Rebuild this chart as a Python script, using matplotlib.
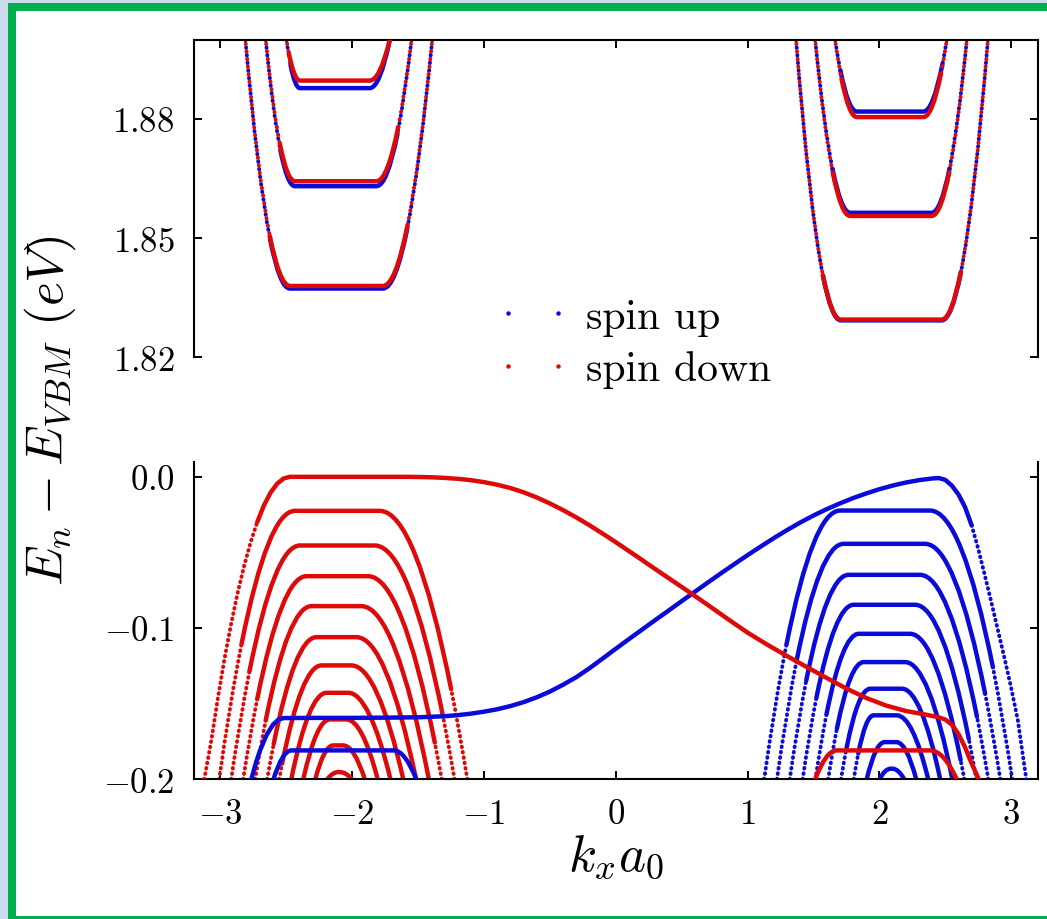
import matplotlib
matplotlib.use('Agg')
import matplotlib.pyplot as plt
from matplotlib.path import Path
from matplotlib.patches import PathPatch, Rectangle
from matplotlib.lines import Line2D

plt.rcParams['mathtext.fontset'] = 'cm'
plt.rcParams['font.family'] = 'serif'
plt.rcParams['font.serif'] = ['cmr10']
plt.rcParams['axes.unicode_minus'] = False
plt.rcParams['lines.scale_dashes'] = False

# ---------------- data (k_x a_0, energy in eV) ----------------
# lower panel: spin-down (red) bulk bands in the left valley
dn_left_E       = [-0.0225, -0.0454, -0.0657, -0.0855, -0.1060, -0.1247, -0.1428, -0.1604, -0.1776, -0.1952]
dn_left_kout_L  = [-3.009, -2.918, -2.827, -2.736, -2.645, -2.554, -2.462, -2.371, -2.280, -2.189]
dn_left_kflat_L = [-2.435, -2.397, -2.347, -2.309, -2.271, -2.233, -2.195, -2.170, -2.144, -2.105]
dn_left_kflat_R = [-1.790, -1.828, -1.878, -1.929, -1.967, -2.005, -2.030, -2.043, -2.068, -2.095]
dn_left_kout_R  = [-1.126, -1.223, -1.320, -1.418, -1.515, -1.612, -1.709, -1.806, -1.904, -2.001]

# lower panel: spin-up (blue) bulk bands in the right valley
up_right_E       = [-0.0223, -0.0443, -0.0648, -0.0846, -0.1038, -0.1225, -0.1401, -0.1577, -0.1754, -0.1930]
up_right_kout_L  = [1.126, 1.223, 1.320, 1.418, 1.515, 1.612, 1.709, 1.806, 1.904, 2.001]
up_right_kflat_L = [1.702, 1.728, 1.766, 1.805, 1.843, 1.880, 1.930, 1.956, 2.040, 2.085]
up_right_kflat_R = [2.386, 2.348, 2.310, 2.272, 2.234, 2.196, 2.171, 2.133, 2.130, 2.100]
up_right_kout_R  = [3.009, 2.918, 2.827, 2.736, 2.645, 2.554, 2.462, 2.371, 2.280, 2.189]

# lower panel: the extra bands near -0.18 eV  (E, kout_L, kflat_L, kflat_R, kout_R)
up_extra = [-0.1809, -2.597, -2.460, -1.685, -1.513]
dn_extra = [-0.1809, 1.513, 1.677, 2.386, 2.588]

# lower panel: edge states
up_edge_k = [-2.765, -2.73, -2.70, -2.65, -2.60, -2.56, -2.52, -2.30, -2.00, -1.70, -1.50,
             -1.30, -1.20, -1.10, -1.0, -0.9, -0.8, -0.7, -0.6, -0.5, -0.4, -0.3, -0.2, -0.1,
             0.0, 0.1, 0.2, 0.3, 0.4, 0.5, 0.576, 0.7, 0.8, 0.9, 1.0, 1.1, 1.2, 1.3, 1.4, 1.5,
             1.6, 1.7, 1.8, 1.9, 2.0, 2.1, 2.2, 2.3, 2.4, 2.45, 2.5, 2.55, 2.6, 2.65, 2.7,
             2.75, 2.8, 2.85, 2.9, 2.95, 3.0, 3.05, 3.115]
up_edge_E = [-0.2000, -0.1890, -0.1812, -0.1708, -0.1638, -0.1606, -0.1595, -0.1594, -0.1594,
             -0.1592, -0.1590, -0.1583, -0.1576, -0.1566, -0.1553, -0.1537, -0.1516, -0.1490,
             -0.1458, -0.1420, -0.1375, -0.1325, -0.1266, -0.1202, -0.1137, -0.1073, -0.1010,
             -0.0947, -0.0885, -0.0822, -0.0775, -0.0698, -0.0637, -0.0577, -0.0518, -0.0461,
             -0.0405, -0.0352, -0.0302, -0.0256, -0.0214, -0.0176, -0.0141, -0.0110, -0.0082,
             -0.0058, -0.0038, -0.0022, -0.0011, -0.0008, -0.0020, -0.0058, -0.0116, -0.0200,
             -0.0320, -0.0475, -0.0650, -0.0830, -0.1015, -0.1200, -0.1395, -0.1605, -0.2000]
dn_edge_k = [-3.122, -3.07, -3.02, -2.97, -2.92, -2.87, -2.82, -2.77, -2.72, -2.67, -2.62,
             -2.57, -2.52, -2.473, -2.2, -1.9, -1.6, -1.5, -1.4, -1.3, -1.2, -1.1, -1.0, -0.9,
             -0.8, -0.7, -0.6, -0.5, -0.4, -0.3, -0.2, -0.1, 0.0, 0.1, 0.2, 0.3, 0.4, 0.5,
             0.576, 0.7, 0.85, 1.0, 1.15, 1.3, 1.45, 1.6, 1.75, 1.9, 2.05, 2.2, 2.35, 2.45,
             2.5, 2.55, 2.6, 2.65, 2.7, 2.755]
dn_edge_E = [-0.2000, -0.1750, -0.1470, -0.1210, -0.0980, -0.0772, -0.0590, -0.0432, -0.0299,
             -0.0190, -0.0106, -0.0046, -0.0011, 0.0000, 0.0000, 0.0000, 0.0000, -0.0001,
             -0.0003, -0.0007, -0.0013, -0.0022, -0.0035, -0.0052, -0.0074, -0.0102, -0.0136,
             -0.0176, -0.0220, -0.0268, -0.0320, -0.0375, -0.0432, -0.0491, -0.0550, -0.0610,
             -0.0669, -0.0728, -0.0773, -0.0848, -0.0940, -0.1030, -0.1110, -0.1185, -0.1258,
             -0.1330, -0.1400, -0.1462, -0.1512, -0.1548, -0.1572, -0.1590, -0.1605, -0.1638,
             -0.1700, -0.1788, -0.1895, -0.2000]

# upper panel: conduction bands, left valley
up_tl_E = [1.83732, 1.8631, 1.8878]
dn_tl_E = [1.83797, 1.86435, 1.8897]
tl_kout_L  = [-2.810, -2.656, -2.499]
tl_kflat_L = [-2.473, -2.435, -2.397]
tl_kflat_R = [-1.765, -1.815, -1.866]
tl_kout_R  = [-1.392, -1.549, -1.714]

# upper panel: conduction bands, right valley
up_tr_E = [1.8293, 1.8564, 1.8819]
dn_tr_E = [1.8295, 1.8556, 1.8805]
tr_kout_L  = [1.368, 1.513, 1.664]
tr_kflat_L = [1.707, 1.778, 1.829]
tr_kflat_R = [2.474, 2.398, 2.335]
tr_kout_R  = [2.824, 2.664, 2.512]

x_ticks = [-3, -2, -1, 0, 1, 2, 3]
x_ticklabels = [r'$-3$', r'$-2$', r'$-1$', r'$0$', r'$1$', r'$2$', r'$3$']
top_yticks = [1.82, 1.85, 1.88]
top_yticklabels = [r'$1.82$', r'$1.85$', r'$1.88$']
bot_yticks = [-0.2, -0.1, 0.0]
bot_yticklabels = [r'$-0.2$', r'$-0.1$', r'$0.0$']

# ---------------- style ----------------
BLUE = '#0b0bd9'
RED = '#de0a0a'
LW = 3.2          # solid (dense) parts
DOT_LW = 2.8      # dot diameter on steep walls
SLOPE_THR = 5.0   # on-screen slope above which the k-sampled dots separate

W, H = 1047, 920
fig = plt.figure(figsize=(W / 100, H / 100), dpi=100)
fig.add_artist(Rectangle((0, 0), 1, 1, transform=fig.transFigure,
                         facecolor='#cddcec', edgecolor='none', zorder=-10))
fig.add_artist(Rectangle((8 / W, 0), 1, (H - 4) / H, transform=fig.transFigure,
                         facecolor='#00b050', edgecolor='none', zorder=-9))
fig.add_artist(Rectangle((16 / W, 3 / H), 1, (H - 12 - 3) / H, transform=fig.transFigure,
                         facecolor='white', edgecolor='none', zorder=-8))

left, width = 194 / W, (1037.5 - 194) / W
ax_top = fig.add_axes([left, 1 - 358.3 / H, width, (358.3 - 40.7) / H])
ax_bot = fig.add_axes([left, 1 - 780.3 / H, width, (780.3 - 462.7) / H])

YT0, YT1 = 1.82, 1.90
YB0, YB1 = -0.2, 0.01
for ax in (ax_top, ax_bot):
    ax.set_xlim(-3.2, 3.2)
ax_top.set_ylim(YT0, YT1)
ax_bot.set_ylim(YB0, YB1)


def px_scales(ax):
    x0, x1 = ax.get_xlim()
    y0, y1 = ax.get_ylim()
    bb = ax.get_window_extent()
    return bb.width / (x1 - x0), bb.height / (y1 - y0)


def lerp(a, b, t):
    return (a[0] + (b[0] - a[0]) * t, a[1] + (b[1] - a[1]) * t)


def split_wall(P0, P1, P2, sx, sy):
    """P0 = wall end at the axis edge, P2 = start of the flat part."""
    dk = abs(P2[0] - P0[0])
    dE = abs(P0[1] - P2[1])
    one_minus_t = SLOPE_THR * dk * sx / (2 * dE * sy) if dE > 0 else 2
    t = 1 - one_minus_t
    if t <= 0.05:
        return None, (P0, P1, P2)
    Q0 = lerp(P0, P1, t)
    Q1 = lerp(P1, P2, t)
    R = lerp(Q0, Q1, t)
    return (P0, Q0, R), (R, Q1, P2)


def dot_style(gap, offset):
    return (offset, (0.5, gap))


def draw_band(ax, E0, kL, kfL, kfR, kR, E_edge, color, z, gap, offset):
    sx, sy = px_scales(ax)
    PL = ((kL, E_edge), ((kL + kfL) / 2, E0), (kfL, E0))
    PR = ((kR, E_edge), ((kfR + kR) / 2, E0), (kfR, E0))
    outL, inL = split_wall(*PL, sx, sy)
    outR, inR = split_wall(*PR, sx, sy)
    verts = [inL[0], inL[1], inL[2], inR[2], inR[1], inR[0]]
    codes = [Path.MOVETO, Path.CURVE3, Path.CURVE3, Path.LINETO, Path.CURVE3, Path.CURVE3]
    ax.add_patch(PathPatch(Path(verts, codes), facecolor='none', edgecolor=color,
                           lw=LW, capstyle='round', joinstyle='round', zorder=z))
    for seg in (outL, outR):
        if seg is None:
            continue
        ax.add_patch(PathPatch(Path(list(seg), [Path.MOVETO, Path.CURVE3, Path.CURVE3]),
                               facecolor='none', edgecolor=color, lw=DOT_LW,
                               linestyle=dot_style(gap, offset), capstyle='round', zorder=z))


# upper panel (dots of the two spins interleave on the walls)
GAP_TOP = 5.0
for i in range(3):
    draw_band(ax_top, up_tl_E[i], tl_kout_L[i], tl_kflat_L[i], tl_kflat_R[i], tl_kout_R[i],
              YT1, BLUE, 2, GAP_TOP, 0)
    draw_band(ax_top, up_tr_E[i], tr_kout_L[i], tr_kflat_L[i], tr_kflat_R[i], tr_kout_R[i],
              YT1, BLUE, 2, GAP_TOP, 0)
for i in range(3):
    draw_band(ax_top, dn_tl_E[i], tl_kout_L[i], tl_kflat_L[i], tl_kflat_R[i], tl_kout_R[i],
              YT1, RED, 3, GAP_TOP, (GAP_TOP + 0.5) / 2)
    draw_band(ax_top, dn_tr_E[i], tr_kout_L[i], tr_kflat_L[i], tr_kflat_R[i], tr_kout_R[i],
              YT1, RED, 3, GAP_TOP, (GAP_TOP + 0.5) / 2)

# lower panel
GAP_BOT = 3.4
for i in range(len(up_right_E)):
    draw_band(ax_bot, up_right_E[i], up_right_kout_L[i], up_right_kflat_L[i],
              up_right_kflat_R[i], up_right_kout_R[i], YB0, BLUE, 2, GAP_BOT, 0)
for i in range(len(dn_left_E)):
    draw_band(ax_bot, dn_left_E[i], dn_left_kout_L[i], dn_left_kflat_L[i],
              dn_left_kflat_R[i], dn_left_kout_R[i], YB0, RED, 2, GAP_BOT, 0)
draw_band(ax_bot, up_extra[0], up_extra[1], up_extra[2], up_extra[3], up_extra[4], YB0,
          BLUE, 4, GAP_BOT, 0)
draw_band(ax_bot, dn_extra[0], dn_extra[1], dn_extra[2], dn_extra[3], dn_extra[4], YB0,
          RED, 4, GAP_BOT, 0)

i_b = up_edge_k.index(2.7)
ax_bot.plot(up_edge_k[:i_b + 1], up_edge_E[:i_b + 1], color=BLUE, lw=LW,
            solid_joinstyle='round', solid_capstyle='round', zorder=5)
ax_bot.plot(up_edge_k[i_b:], up_edge_E[i_b:], color=BLUE, lw=DOT_LW,
            ls=dot_style(GAP_BOT, 0), dash_capstyle='round', zorder=5)
i_r = dn_edge_k.index(-2.72)
ax_bot.plot(dn_edge_k[i_r:], dn_edge_E[i_r:], color=RED, lw=LW,
            solid_joinstyle='round', solid_capstyle='round', zorder=6)
ax_bot.plot(dn_edge_k[:i_r + 1], dn_edge_E[:i_r + 1], color=RED, lw=DOT_LW,
            ls=dot_style(GAP_BOT, 0), dash_capstyle='round', zorder=6)

# axes cosmetics
for ax in (ax_top, ax_bot):
    ax.set_xticks(x_ticks)
    for s in ax.spines.values():
        s.set_linewidth(1.5)
    ax.tick_params(direction='in', length=6, width=1.4, labelsize=25, pad=14,
                   left=True, right=True)
ax_top.spines['bottom'].set_visible(False)
ax_bot.spines['top'].set_visible(False)
ax_top.tick_params(top=True, bottom=False, labelbottom=False)
ax_bot.tick_params(top=False, bottom=True)
ax_top.set_yticks(top_yticks)
ax_top.set_yticklabels(top_yticklabels)
ax_bot.set_yticks(bot_yticks)
ax_bot.set_yticklabels(bot_yticklabels)
ax_bot.set_xticklabels(x_ticklabels)

fig.text(50 / W, 1 - 411 / H, r'$E_n - E_{VBM}\ (eV)$', rotation=90,
         ha='center', va='center', fontsize=37)
fig.text(616 / W, 1 - 857 / H, r'$k_x a_0$', ha='center', va='center', fontsize=37)

handles = [Line2D([], [], ls='none', marker='o', ms=2.2, color=BLUE, mec=BLUE),
           Line2D([], [], ls='none', marker='o', ms=2.2, color=RED, mec=RED)]
fig.legend(handles, ['spin up', 'spin down'], loc='center left',
           bbox_to_anchor=(495.8 / W, 1 - 344.5 / H), numpoints=2, handlelength=1.8,
           handletextpad=0.36, labelspacing=0.35, borderpad=0, borderaxespad=0,
           frameon=False, fontsize=30)

fig.savefig('out.png', dpi=100)
